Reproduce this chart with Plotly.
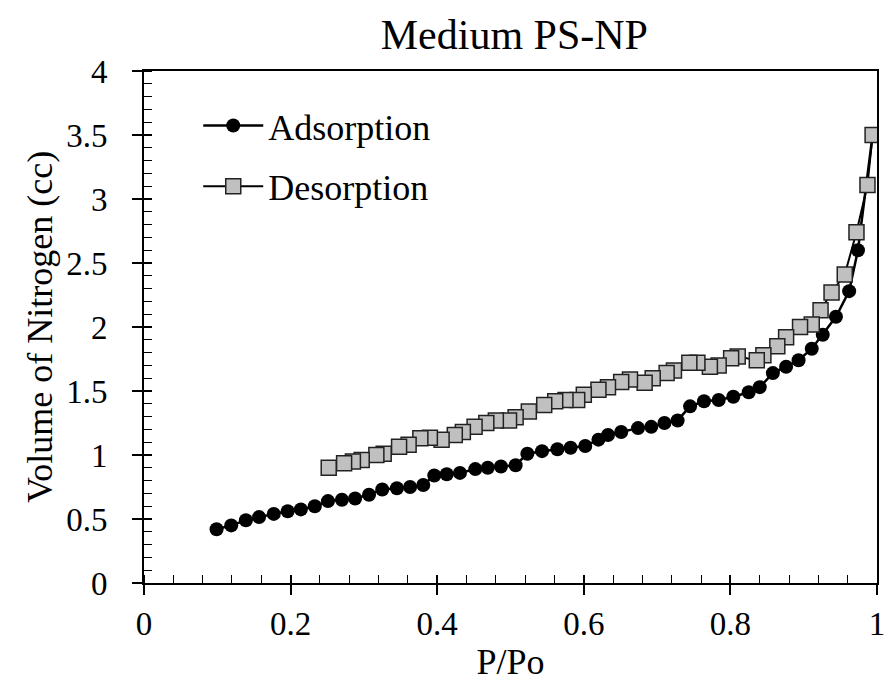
import plotly.graph_objects as go

ads_x = [0.099, 0.119, 0.139, 0.157, 0.177, 0.196, 0.214, 0.233, 0.251, 0.270, 0.288, 0.307,
         0.325, 0.345, 0.363, 0.381, 0.396, 0.413, 0.431, 0.452, 0.469, 0.487, 0.507, 0.523,
         0.543, 0.564, 0.582, 0.602, 0.620, 0.633, 0.651, 0.674, 0.692, 0.710, 0.728, 0.745,
         0.764, 0.784, 0.804, 0.825, 0.840, 0.858, 0.876, 0.893, 0.911, 0.926, 0.944, 0.962,
         0.974, 0.994]
ads_y = [0.42, 0.45, 0.49, 0.515, 0.54, 0.56, 0.575, 0.60, 0.64, 0.65, 0.66, 0.69,
         0.73, 0.74, 0.75, 0.766, 0.84, 0.85, 0.86, 0.89, 0.90, 0.91, 0.92, 1.01,
         1.03, 1.045, 1.057, 1.07, 1.12, 1.156, 1.18, 1.21, 1.22, 1.25, 1.27, 1.38,
         1.42, 1.43, 1.455, 1.49, 1.53, 1.64, 1.69, 1.74, 1.83, 1.94, 2.08, 2.28,
         2.60, 3.50]

des_x = [0.994, 0.987, 0.972, 0.956, 0.938, 0.923, 0.911, 0.895, 0.876, 0.864, 0.845, 0.836,
         0.810, 0.801, 0.784, 0.772, 0.755, 0.744, 0.723, 0.713, 0.694, 0.683, 0.663, 0.651,
         0.633, 0.620, 0.600, 0.591, 0.575, 0.561, 0.546, 0.525, 0.507, 0.498, 0.480, 0.467,
         0.451, 0.435, 0.424, 0.406, 0.390, 0.377, 0.361, 0.348, 0.327, 0.317, 0.297, 0.285,
         0.273, 0.252]
des_y = [3.50, 3.11, 2.74, 2.41, 2.27, 2.13, 2.02, 2.00, 1.92, 1.85, 1.78, 1.74,
         1.77, 1.755, 1.70, 1.69, 1.72, 1.72, 1.66, 1.64, 1.60, 1.565, 1.59, 1.57,
         1.53, 1.51, 1.47, 1.43, 1.43, 1.42, 1.39, 1.34, 1.295, 1.27, 1.27, 1.25,
         1.22, 1.18, 1.156, 1.12, 1.135, 1.13, 1.08, 1.065, 1.01, 1.00, 0.96, 0.95,
         0.935, 0.90]

x_ticks = [0, 0.2, 0.4, 0.6, 0.8, 1]
x_tick_text = ["0", "0.2", "0.4", "0.6", "0.8", "1"]
y_ticks = [0, 0.5, 1, 1.5, 2, 2.5, 3, 3.5, 4]
y_tick_text = ["0", "0.5", "1", "1.5", "2", "2.5", "3", "3.5", "4"]

FONT = "Liberation Serif, Times New Roman, serif"

fig = go.Figure()
fig.add_trace(go.Scatter(
    x=ads_x, y=ads_y, mode="lines+markers", name="Adsorption", legendgroup="a",
    line=dict(color="black", width=2.5),
    marker=dict(symbol="circle", size=14, color="black"),
))
fig.add_trace(go.Scatter(
    x=des_x, y=des_y, mode="lines+markers", name="Desorption", legendgroup="d",
    line=dict(color="black", width=2),
    marker=dict(symbol="square", size=15, color="#c0c0c0", line=dict(color="#222222", width=1.5)),
))

fig.update_layout(
    width=893, height=686,
    margin=dict(l=144, r=8, t=71, b=103),
    paper_bgcolor="white", plot_bgcolor="white",
    font=dict(family=FONT, size=33, color="black"),
    title=dict(text="Medium PS-NP", x=0.576, xanchor="center", y=1 - 34 / 686, yanchor="middle",
               yref="container", font=dict(family=FONT, size=42, color="black")),
    showlegend=True,
    legend=dict(x=0.074, y=0.952, xanchor="left", yanchor="top", bgcolor="rgba(0,0,0,0)",
                font=dict(family=FONT, size=36, color="black"), tracegroupgap=11,
                traceorder="grouped", itemwidth=60),
    xaxis=dict(range=[0, 1], tickvals=x_ticks, ticktext=x_tick_text, showgrid=False,
               zeroline=False, showline=True, linecolor="black", linewidth=2, mirror=True,
               ticks="outside", ticklen=10, tickwidth=1.5, tickcolor="black",
               tickfont=dict(family=FONT, size=33),
               minor=dict(dtick=0.04, tick0=0, ticks="inside", ticklen=8, tickwidth=1, tickcolor="black"),
               title=dict(text="P/Po", font=dict(family=FONT, size=36), standoff=8)),
    yaxis=dict(range=[0, 4], tickvals=y_ticks, ticktext=y_tick_text, showgrid=False,
               zeroline=False, showline=True, linecolor="black", linewidth=2, mirror=True,
               ticks="outside", ticklen=10, tickwidth=1.5, tickcolor="black",
               tickfont=dict(family=FONT, size=33), ticklabelstandoff=18,
               minor=dict(dtick=0.1, tick0=0, ticks="inside", ticklen=8, tickwidth=1, tickcolor="black"),
               title=dict(text="Volume of Nitrogen (cc)", font=dict(family=FONT, size=36), standoff=3)),
    xaxis2=dict(overlaying="x", matches="x", side="bottom", anchor="y", range=[0, 1],
                tickvals=x_ticks, showticklabels=False, ticks="inside", ticklen=8, tickwidth=1.5,
                tickcolor="black", showgrid=False, zeroline=False, showline=False),
    yaxis2=dict(overlaying="y", matches="y", side="left", anchor="x", range=[0, 4],
                tickvals=y_ticks, showticklabels=False, ticks="inside", ticklen=8, tickwidth=1.5,
                tickcolor="black", showgrid=False, zeroline=False, showline=False),
)
fig.add_trace(go.Scatter(x=[None], y=[None], xaxis="x2", yaxis="y2", showlegend=False, hoverinfo="skip"))

fig.write_html("out.html")
